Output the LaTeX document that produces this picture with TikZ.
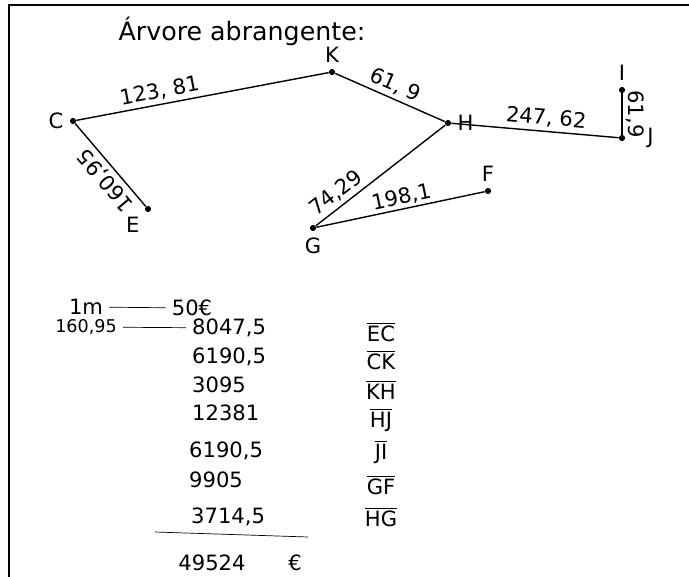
\documentclass[tikz,border=0pt]{standalone}
\usepackage{fontspec}
\setmainfont{DejaVu Sans}
\begin{document}
\begin{tikzpicture}[x=0.02cm,y=-0.02cm,
    pt/.style={circle,fill,inner sep=0pt,minimum size=3.5pt},
    hand/.style={font=\large},
    small hand/.style={font=\normalsize},
    len/.style={font=\large,sloped,above,inner sep=2pt},
    edge/.style={line width=0.8pt}]
    \useasboundingbox (0,0) rectangle (689,577);
    \draw[line width=1.7pt] (9,577) -- (9,5) -- (689,5);
    \node[font=\Large] (title) at (242,31) {Árvore abrangente:};
    % vertices of the tree
    \node[pt,label={[hand]left:C}] (C) at (73,121) {};
    \node[pt,label={[hand]above:K}] (K) at (332,72) {};
    \node[pt,label={[hand]below left:E}] (E) at (148,209) {};
    \node[pt,label={[hand]below:G}] (G) at (313,228) {};
    \node[pt,label={[hand]right:H}] (H) at (448,123) {};
    \node[pt,label={[hand]above:F}] (F) at (488,191) {};
    \node[pt,label={[hand,label distance=9pt]right:J}] (J) at (622,138) {};
    \node[pt,label={[hand]above:I}] (I) at (622,90) {};
    \draw[edge] (C) -- node[len,pos=0.34] {123, 81} (K);
    \draw[edge] (K) -- node[len] {61, 9} (H);
    \draw[edge] (H) -- node[len,pos=0.56] {247, 62} (J);
    \draw[edge] (I) -- node[len,allow upside down] {61,9} (J);
    \draw[edge] (E) -- node[hand,pos=0.42,rotate=130,anchor=south,inner sep=2pt] {160,95} (C);
    \draw[edge] (G) -- node[len,pos=0.22] {74,29} (H);
    \draw[edge] (G) -- node[len,pos=0.52,inner sep=1pt] {198,1} (F);
    % cost per metre
    \node[hand] (m1) at (86,307) {1m};
    \node[hand] (e50) at (192,308) {50€};
    \draw (m1) -- (e50);
    \node[small hand] (d) at (86,327) {160,95};
    \node[hand,anchor=west] (c1) at (186,328) {8047,5};
    \draw (d) -- (c1);
    \node[hand,anchor=west] (c2) at (186,357) {6190,5};
    \node[hand,anchor=west] (c3) at (186,385) {3095};
    \node[hand,anchor=west] (c4) at (186,413) {12381};
    \node[hand,anchor=west] (c5) at (183,451) {6190,5};
    \node[hand,anchor=west] (c6) at (183,480) {9905};
    \node[hand,anchor=west] (c7) at (185,517) {3714,5};
    \node[hand] (l1) at (381,332) {$\overline{\hbox{EC}}$};
    \node[hand] (l2) at (381,360) {$\overline{\hbox{CK}}$};
    \node[hand] (l3) at (381,390) {$\overline{\hbox{KH}}$};
    \node[hand] (l4) at (381,420) {$\overline{\hbox{HJ}}$};
    \node[hand] (l5) at (381,452) {$\overline{\hbox{JI}}$};
    \node[hand] (l6) at (381,485) {$\overline{\hbox{GF}}$};
    \node[hand] (l7) at (381,517) {$\overline{\hbox{HG}}$};
    \draw (155,532) -- (308,537);
    \node[hand] (tot) at (212,563) {49524};
    \node[hand] (eur) at (295,563) {€};
\end{tikzpicture}
\end{document}
